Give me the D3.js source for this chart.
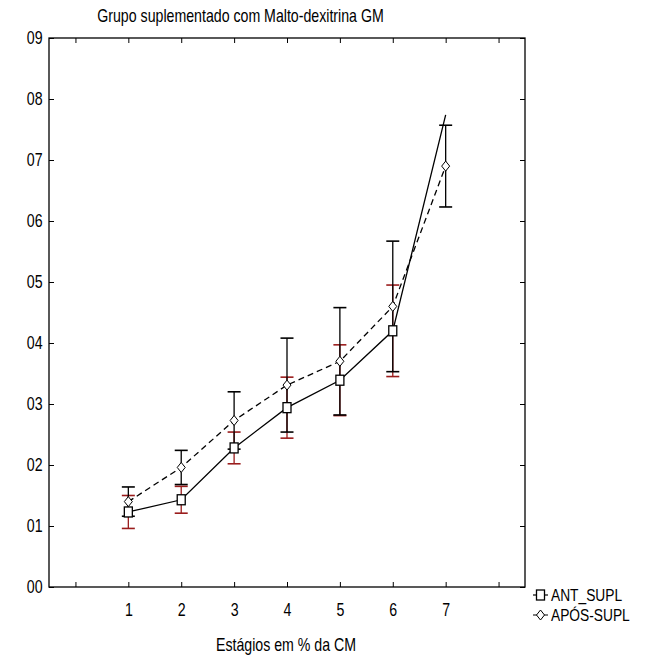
<!DOCTYPE html>
<html>
<head>
<meta charset="utf-8">
<script src="https://cdn.jsdelivr.net/npm/d3@7"></script>
<style>
  body { margin: 0; background: #fff; }
  svg text { font-family: "Liberation Sans", Arial, sans-serif; fill: #000; }
</style>
</head>
<body>
<div id="chart"></div>
<script>
// valores
var stages = [1, 2, 3, 4, 5, 6, 7];
var antMean = [1.23, 1.43, 2.28, 2.94, 3.39, 4.20, 7.74];
var antErr = [0.27, 0.22, 0.26, 0.50, 0.58, 0.75, null];
var aposMean = [1.40, 1.96, 2.73, 3.31, 3.70, 4.60, 6.90];
var aposErr = [0.24, 0.28, 0.47, 0.77, 0.88, 1.07, 0.67];
var yTicks = [0, 1, 2, 3, 4, 5, 6, 7, 8, 9];
var xTicks = [0, 1, 2, 3, 4, 5, 6, 7, 8];
var xLabels = [1, 2, 3, 4, 5, 6, 7];
var seriesNames = ["ANT_SUPL", "APÓS-SUPL"];

var W = 660, H = 657;
var margin = { top: 38, right: 135, bottom: 70, left: 49 };
var w = W - margin.left - margin.right;
var h = H - margin.top - margin.bottom;
var RED = "#9a1c1c";
var FS = "17.5px";
var NARROW = "scale(0.81,1)";

var svg = d3.select("#chart").append("svg")
        .attr("width", W)
        .attr("height", H);

var x = d3.scaleLinear().domain([-0.5, 8.5]).range([0, w]);
var y = d3.scaleLinear().domain([0, 9]).range([h, 0]);

var g = svg.append("g")
        .attr("transform", "translate(" + margin.left + "," + margin.top + ")");

// text squeezed sideways, like the narrow font of the original
function narrowText(parent, tx, ty, txt, size) {
        return parent.append("text")
                .attr("transform", "translate(" + tx + "," + ty + ") " + NARROW)
                .attr("font-size", size || FS)
                .text(txt);
}

// frame with inward ticks on all four sides
function styleAxis(sel) {
        sel.select(".domain").remove();
        sel.selectAll("line").attr("stroke", "#000").attr("stroke-width", 1);
}

g.append("g")
        .attr("transform", "translate(0," + h + ")")
        .call(d3.axisBottom(x).tickValues(xTicks).tickSizeInner(-5).tickSizeOuter(0)
                .tickFormat(function(d) { return xLabels.indexOf(d) >= 0 ? d : ""; }))
        .call(styleAxis)
        .call(function(s) {
                s.selectAll("text")
                        .attr("y", 29).attr("dy", 0)
                        .attr("transform", NARROW)
                        .attr("font-size", FS).attr("font-family", null);
        });

g.append("g")
        .call(d3.axisTop(x).tickValues(xTicks).tickSizeInner(-5).tickSizeOuter(0).tickFormat(""))
        .call(styleAxis);

g.append("g")
        .call(d3.axisLeft(y).tickValues(yTicks).tickSizeInner(-5).tickSizeOuter(0)
                .tickFormat(d3.format("02d")))
        .call(styleAxis)
        .call(function(s) {
                s.selectAll("text")
                        .attr("x", -8)
                        .attr("transform", NARROW)
                        .attr("font-size", FS).attr("font-family", null);
        });

g.append("g")
        .attr("transform", "translate(" + w + ",0)")
        .call(d3.axisRight(y).tickValues(yTicks).tickSizeInner(-5).tickSizeOuter(0).tickFormat(""))
        .call(styleAxis);

g.append("rect")
        .attr("width", w)
        .attr("height", h)
        .attr("fill", "none")
        .attr("stroke", "#000")
        .attr("stroke-width", 1.3);

// error bars: ANT (red) first, APOS (black) on top
function errorBars(means, errs, color) {
        var pts = stages.map(function(s, i) { return { s: s, m: means[i], e: errs[i] }; })
                .filter(function(d) { return d.e != null; });
        var eb = g.append("g").attr("stroke", color).attr("stroke-width", 1.3);
        pts.forEach(function(d) {
                var cx = x(d.s);
                eb.append("line").attr("x1", cx).attr("x2", cx)
                        .attr("y1", y(d.m - d.e)).attr("y2", y(d.m + d.e));
                [d.m - d.e, d.m + d.e].forEach(function(v) {
                        eb.append("line").attr("x1", cx - 6.5).attr("x2", cx + 6.5)
                                .attr("y1", y(v)).attr("y2", y(v)).attr("stroke-width", 1.6);
                });
        });
}
errorBars(antMean, antErr, RED);
errorBars(aposMean, aposErr, "#000");

var line = d3.line()
        .x(function(d) { return x(d[0]); })
        .y(function(d) { return y(d[1]); });

g.append("path")
        .datum(stages.map(function(s, i) { return [s, aposMean[i]]; }))
        .attr("d", line)
        .attr("fill", "none")
        .attr("stroke", "#000")
        .attr("stroke-width", 1.3)
        .attr("stroke-dasharray", "6,4");

g.append("path")
        .datum(stages.map(function(s, i) { return [s, antMean[i]]; }))
        .attr("d", line)
        .attr("fill", "none")
        .attr("stroke", "#000")
        .attr("stroke-width", 1.3);

// markers
function diamond(sel, cx, cy) {
        sel.append("path")
                .attr("d", "M" + cx + "," + (cy - 5) + " L" + (cx + 4) + "," + cy + " L" + cx + "," + (cy + 5) + " L" + (cx - 4) + "," + cy + "Z")
                .attr("fill", "#fff").attr("stroke", "#000").attr("stroke-width", 1);
}
function square(sel, cx, cy) {
        sel.append("rect")
                .attr("x", cx - 4).attr("y", cy - 5).attr("width", 8).attr("height", 10)
                .attr("fill", "#fff").attr("stroke", "#000").attr("stroke-width", 1.3);
}

var mk = g.append("g");
stages.forEach(function(s, i) { diamond(mk, x(s), y(aposMean[i])); });
stages.forEach(function(s, i) {
        if (antErr[i] != null) square(mk, x(s), y(antMean[i]));
});

// title and axis labels
narrowText(svg, 240.5, 22, "Grupo suplementado com Malto-dexitrina GM")
        .attr("text-anchor", "middle");
narrowText(svg, 286, 651, "Estágios em % da CM")
        .attr("text-anchor", "middle");

// y label is cut off at the left edge
svg.append("clipPath").attr("id", "ylab")
        .append("rect").attr("x", 14.5).attr("y", 440).attr("width", 10).attr("height", 100);
svg.append("text")
        .attr("clip-path", "url(#ylab)")
        .attr("transform", "translate(19,489) rotate(-90)")
        .attr("text-anchor", "middle")
        .attr("font-size", "15px")
        .text("BA");

// legend
var lg = svg.append("g").attr("transform", "translate(533,595)");
lg.append("line").attr("x1", 0).attr("x2", 15).attr("stroke", "#000").attr("stroke-width", 1.2);
square(lg, 7.5, 0);
narrowText(lg, 18, 6, seriesNames[0], "17px");

var lg2 = svg.append("g").attr("transform", "translate(533,615)");
lg2.append("line").attr("x1", 0).attr("x2", 15).attr("stroke", "#000").attr("stroke-width", 1.2)
        .attr("stroke-dasharray", "4,7");
diamond(lg2, 7.5, 0);
narrowText(lg2, 18, 6, seriesNames[1], "17px");
</script>
</body>
</html>
